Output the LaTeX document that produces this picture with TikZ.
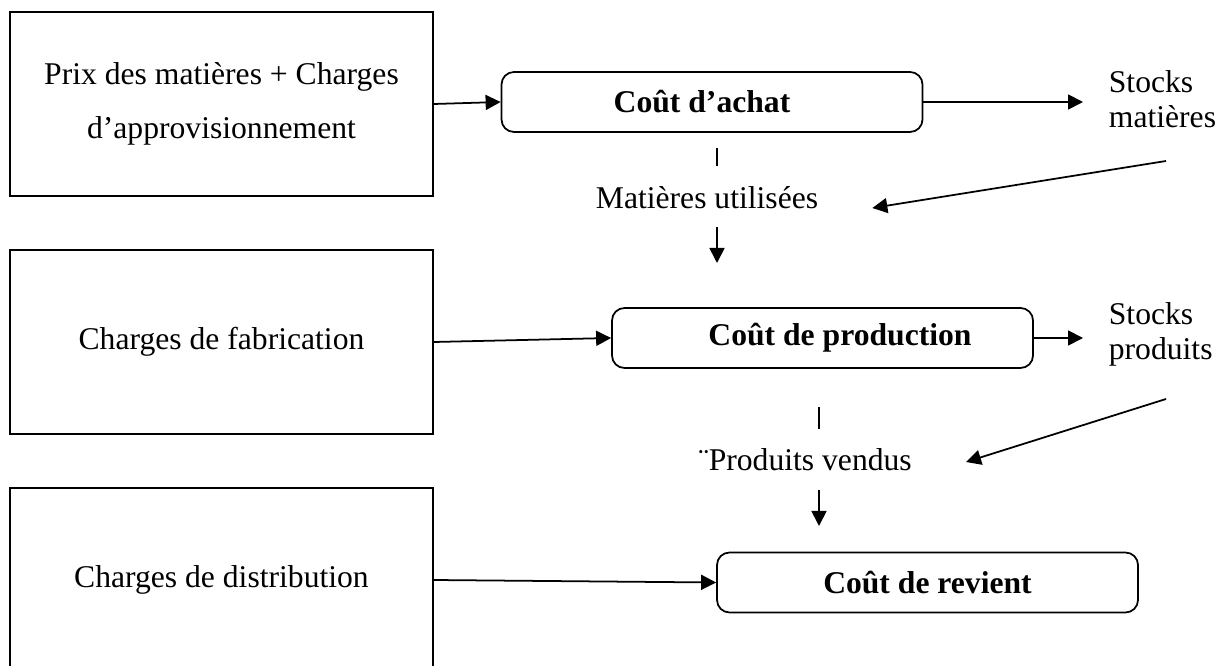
\documentclass[tikz,border=0pt]{standalone}
\usepackage{fontspec}
\setmainfont{Liberation Serif}
\usetikzlibrary{arrows.meta}

\begin{document}
\begin{tikzpicture}[line width=1pt,
    every node/.style={font=\fontsize{18}{20}\selectfont},
    charge/.style={draw, minimum width=8.46cm, minimum height=3.68cm, align=center},
    cout/.style={draw, rounded corners=0.25cm, minimum width=8.42cm, minimum height=1.2cm, font=\fontsize{18}{20}\selectfont\bfseries},
    fleche/.style={-{Triangle[length=0.3cm,width=0.3cm]}}]
    \useasboundingbox (0,0) rectangle (24.48,-13.32);
    \clip (0,0) rectangle (24.48,-13.32);
    % boxes of charges
    \node[charge, font=\fontsize{18}{31}\selectfont] (prix) at (4.43,-2.08) {Prix des matières + Charges\\d’approvisionnement};
    \node[charge] (fab) at (4.43,-6.84) {Charges de fabrication};
    \node[charge] (dist) at (4.43,-11.6) {Charges de distribution};
    % costs
    \node[cout] (achat) at (14.24,-2.04) {Coût d’achat\hspace*{0.4cm}};
    \node[cout] (prod) at (16.45,-6.76) {\hspace{0.7cm}Coût de production};
    \node[cout] (rev) at (18.55,-11.65) {Coût de revient};
    % stocks and flows
    \node[anchor=west, align=left, inner sep=0pt] (stockm) at (22.16,-1.98) {Stocks\\matières};
    \node[anchor=west, align=left, inner sep=0pt] (stockp) at (22.16,-6.69) {Stocks\\produits};
    \node (mu) at (14.14,-3.96) {Matières utilisées};
    \node (pv) at (16.10,-9.20) {¨Produits vendus};
    \coordinate (m1) at (14.34,-2.96);
    \coordinate (m2) at (14.34,-4.54);
    \coordinate (m3) at (23.32,-3.22);
    \coordinate (p1) at (16.38,-8.14);
    \coordinate (p2) at (16.38,-9.80);
    \coordinate (p3) at (23.32,-7.98);
    \draw[fleche] (prix.east) -- (achat.west);
    \draw[fleche, shorten >=0.5cm] (achat.east) -- (achat.east -| stockm.west);
    \draw[fleche] (fab.east) -- (prod.west);
    \draw[fleche, shorten >=0.5cm] (prod.east) -- (prod.east -| stockp.west);
    \draw[fleche] (dist.east) -- (rev.west);
    \draw[line width=1.6pt] (m1) -- ++(0,-0.36);
    \draw[fleche] (m2) -- ++(0,-0.72);
    \draw[fleche] (m3) -- ([xshift=0.95cm,yshift=-0.2cm]mu.east);
    \draw[line width=1.6pt] (p1) -- ++(0,-0.44);
    \draw[fleche] (p2) -- ++(0,-0.72);
    \draw[fleche] (p3) -- ([xshift=0.95cm,yshift=-0.04cm]pv.east);
\end{tikzpicture}
\end{document}
